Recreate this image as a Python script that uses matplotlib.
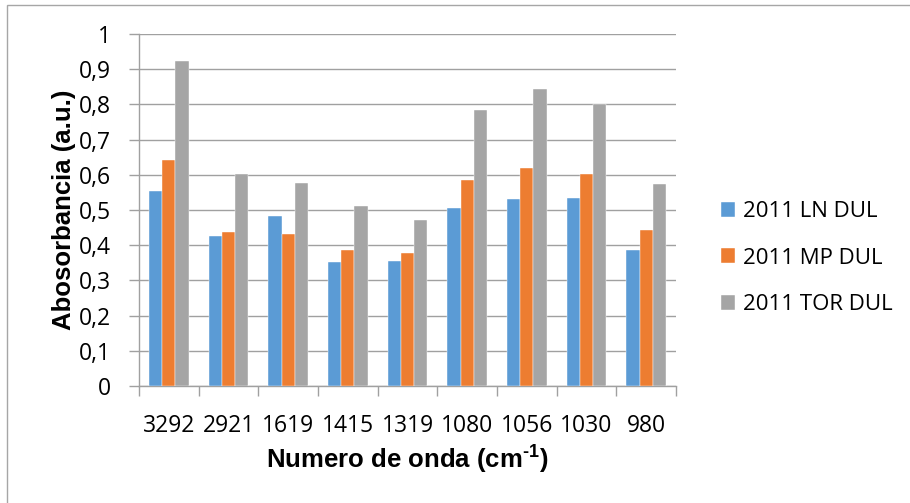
import numpy as np
import matplotlib.pyplot as plt
from matplotlib.patches import Rectangle
from matplotlib.ticker import FixedLocator, FuncFormatter

wavenumbers = ['3292', '2921', '1619', '1415', '1319', '1080', '1056', '1030', '980']
ln_dul = [0.555, 0.427, 0.482, 0.351, 0.356, 0.507, 0.531, 0.535, 0.386]
mp_dul = [0.642, 0.438, 0.432, 0.387, 0.377, 0.585, 0.619, 0.602, 0.442]
tor_dul = [0.924, 0.602, 0.576, 0.511, 0.473, 0.783, 0.843, 0.800, 0.574]
series_names = ['2011 LN DUL', '2011 MP DUL', '2011 TOR DUL']
colors = ['#5b9bd5', '#ed7d31', '#a5a5a5']

grid_col = '#a0a0a0'
tick_font = 'Open Sans'
title_font = 'Liberation Sans'

# superscript in the axis title set in the same bold face
plt.rcParams['mathtext.fontset'] = 'custom'
plt.rcParams['mathtext.rm'] = 'Liberation Sans:bold'
plt.rcParams['mathtext.default'] = 'rm'

fig = plt.figure(figsize=(9.1, 5.03), dpi=100)
ax = fig.add_axes([139 / 910, 1 - 386 / 503, 537 / 910, 352 / 503])

# outer chart frame (only top/left edges fall inside the image)
fig.patches.append(Rectangle((7 / 910, -0.1), 1.2, 1 - 5 / 503 + 0.1,
                             transform=fig.transFigure, fill=False,
                             edgecolor='#a6a6a6', linewidth=1.0))

x = np.arange(len(wavenumbers))
w = 1 / 4.5
for i, vals in enumerate([ln_dul, mp_dul, tor_dul]):
    ax.bar(x + (i - 1) * w, vals, width=w, color=colors[i],
           edgecolor='white', linewidth=0.3, label=series_names[i], zorder=3)

ax.set_xlim(-0.5, len(wavenumbers) - 0.5)
ax.set_ylim(0, 1)
ax.set_yticks(np.arange(0, 1.01, 0.1))
ax.yaxis.set_major_formatter(FuncFormatter(
    lambda v, p: ('%.1f' % v).replace('.', ',') if 0 < round(v, 2) < 1 else '%d' % round(v)))
ax.yaxis.grid(True, color=grid_col, linewidth=1.0, zorder=0)

ax.set_xticks(x)
ax.set_xticklabels(wavenumbers)
ax.xaxis.set_minor_locator(FixedLocator(np.arange(-0.5, len(wavenumbers), 1.0)))
ax.tick_params(axis='x', which='major', length=0, pad=20)
ax.tick_params(axis='x', which='minor', length=7, width=1.0, color=grid_col)
ax.tick_params(axis='y', length=7, width=1.0, color=grid_col, pad=13)

for lab in ax.get_xticklabels() + ax.get_yticklabels():
    lab.set_fontfamily(tick_font)
    lab.set_fontsize(16.5)
    lab.set_color('#000000')

for s in ['top', 'right']:
    ax.spines[s].set_visible(False)
for s in ['left', 'bottom']:
    ax.spines[s].set_color(grid_col)
    ax.spines[s].set_linewidth(1.0)

ax.set_xlabel('Numero de onda (cm$^{\\text{-1}}$)', fontfamily=title_font,
              fontweight='bold', fontsize=18.5, labelpad=4)
ax.set_ylabel('Abosorbancia (a.u.)', fontfamily=title_font,
              fontweight='bold', fontsize=18.5, labelpad=2)

leg = ax.legend(loc='center left', bbox_to_anchor=(712 / 910, 1 - 258 / 503),
                bbox_transform=fig.transFigure, frameon=False,
                prop={'family': tick_font, 'size': 16},
                handlelength=0.65, handleheight=0.65, handletextpad=0.35,
                labelspacing=1.15, borderaxespad=0)

fig.savefig('out.png', dpi=100, facecolor='white')
